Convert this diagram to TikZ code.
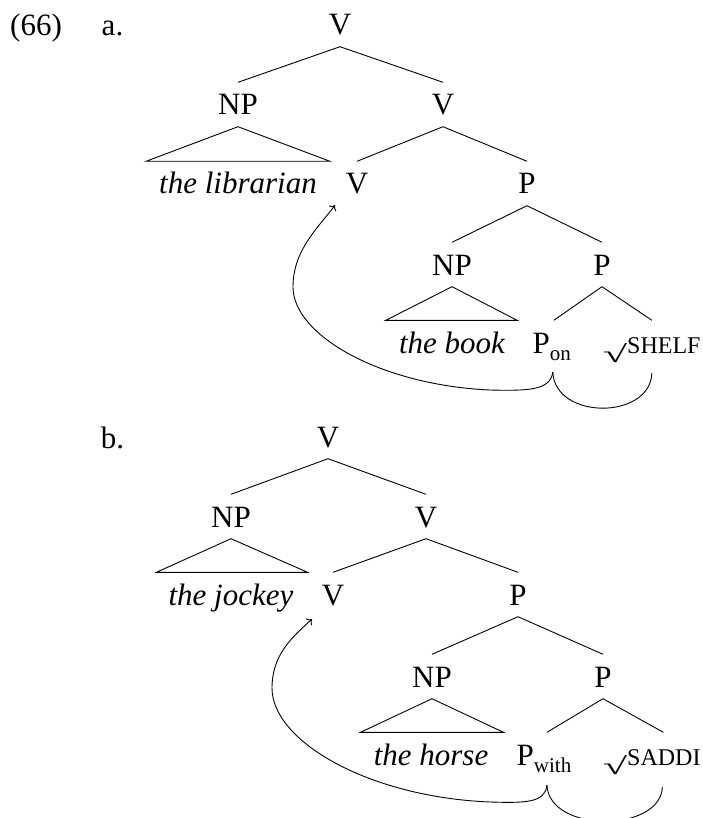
\documentclass[tikz,border=0pt]{standalone}
\usepackage{fontspec}
\setmainfont{Liberation Serif}
\usepackage{graphicx}
\usetikzlibrary{arrows.meta}

% subscript on a category label
\newcommand{\catsub}[1]{\raisebox{-7pt}{\fontsize{21}{21}\selectfont #1}}
% root sign followed by a small-caps root name
\newcommand{\rootsym}{\raisebox{-9pt}{\resizebox{24pt}{19pt}{√}}}
\newcommand{\smcaps}[1]{{\fontsize{24}{24}\selectfont #1}}

\begin{document}
\begin{tikzpicture}[x=1pt,y=-1pt,
  lab/.style={anchor=base, inner xsep=0pt, inner ysep=11.5pt,
              text height=21pt, text depth=0pt,
              font=\fontsize{31}{37}\selectfont},
  phrase/.style={lab, font=\fontsize{31}{37}\selectfont\itshape},
  branch/.style={line width=0.9pt},
  move/.style={line width=0.9pt, -{To[length=4.5pt,width=9pt]}},
  link/.style={line width=0.9pt}]

\useasboundingbox (0,0) rectangle (702,818);

% example number and sub-labels
\node[lab] (exnum) at (36,36) {(66)};
\node[lab] (la) at (112.5,36) {a.};
\node[lab] (lb) at (112.5,448) {b.};

% ---------- tree (a) ----------
\node[lab] (aV)   at (340,35)  {V};
\node[lab] (aNP)  at (238,115) {NP};
\node[lab] (aV1)  at (443,115) {V};
\node[phrase] (alib) at (238,194) {the librarian};
\node[lab] (aV2)  at (357,194) {V};
\node[lab] (aP)   at (527,194) {P};
\node[lab] (aNP2) at (452,275) {NP};
\node[lab] (aP1)  at (602,275) {P};
\node[phrase] (abook) at (452,353) {the book};
\node[lab, anchor=base west] (aPon)  at (532.5,353) {P\catsub{on}};
\node[lab, anchor=base west] (aroot) at (603,353) {\rootsym\smcaps{SHELF}};

\draw[branch] (aV.south) -- (aNP.north);
\draw[branch] (aV.south) -- (aV1.north);
\draw[branch] (aNP.south) -- ([xshift=-13pt]alib.north west) -- ([xshift=13pt]alib.north east) -- cycle;
\draw[branch] (aV1.south) -- (aV2.north);
\draw[branch] (aV1.south) -- (aP.north);
\draw[branch] (aP.south) -- (aNP2.north);
\draw[branch] (aP.south) -- (aP1.north);
\draw[branch] (aNP2.south) -- ([xshift=-13pt]abook.north west) -- ([xshift=12pt]abook.north east) -- cycle;
\draw[branch] (aP1.south) -- ([xshift=2pt]aPon.north);
\draw[branch] (aP1.south) -- (aroot.north);

\coordinate (aPs)  at ([xshift=1pt,yshift=-7.5pt]aPon.south);
\coordinate (aSe)  at ([yshift=-8.5pt]aroot.south);
\coordinate (aTip) at ([xshift=-22pt,yshift=0.5pt]aV2.south);

\draw[move] (aPs) .. controls (550,390) and (530,391) .. (490,390)
  .. controls (380,385) and (293,335) .. (293,287)
  .. controls (293,250) and (318,228) .. (aTip);
\draw[link] (aPs) .. controls (555,420) and (650,420) .. (aSe);

% ---------- tree (b) ----------
\node[lab] (bV)   at (328,447) {V};
\node[lab] (bNP)  at (231,527) {NP};
\node[lab] (bV1)  at (426,527) {V};
\node[phrase] (bjock) at (231,605) {the jockey};
\node[lab] (bV2)  at (333,605) {V};
\node[lab] (bP)   at (518,605) {P};
\node[lab] (bNP2) at (432,687) {NP};
\node[lab] (bP1)  at (603,687) {P};
\node[phrase] (bhorse) at (431,765) {the horse};
\node[lab, anchor=base west] (bPw)  at (516.5,765) {P\catsub{with}};
\node[lab, anchor=base west] (bsad) at (603,765) {\rootsym\smcaps{SADDI}};

\draw[branch] (bV.south) -- (bNP.north);
\draw[branch] (bV.south) -- (bV1.north);
\draw[branch] (bNP.south) -- ([xshift=-12pt]bjock.north west) -- ([xshift=14pt]bjock.north east) -- cycle;
\draw[branch] (bV1.south) -- (bV2.north);
\draw[branch] (bV1.south) -- (bP.north);
\draw[branch] (bP.south) -- (bNP2.north);
\draw[branch] (bP.south) -- (bP1.north);
\draw[branch] (bNP2.south) -- ([xshift=-13pt]bhorse.north west) -- ([xshift=15pt]bhorse.north east) -- cycle;
\draw[branch] (bP1.south) -- ([xshift=3pt]bPw.north);
\draw[branch] (bP1.south) -- ([xshift=11.5pt]bsad.north);

\coordinate (bPs)  at ([xshift=3pt,yshift=-8.5pt]bPw.south);
\coordinate (bSe)  at ([xshift=10.5pt,yshift=-10.5pt]bsad.south);
\coordinate (bTip) at ([xshift=-21pt,yshift=-2.5pt]bV2.south);

\draw[move] (bPs) .. controls (545,803) and (525,803) .. (490,802)
  .. controls (368,797) and (272,741) .. (272,688)
  .. controls (272,655) and (292,637) .. (bTip);
\draw[link] (bPs) .. controls (549,833) and (660,833) .. (bSe);

\end{tikzpicture}
\end{document}
